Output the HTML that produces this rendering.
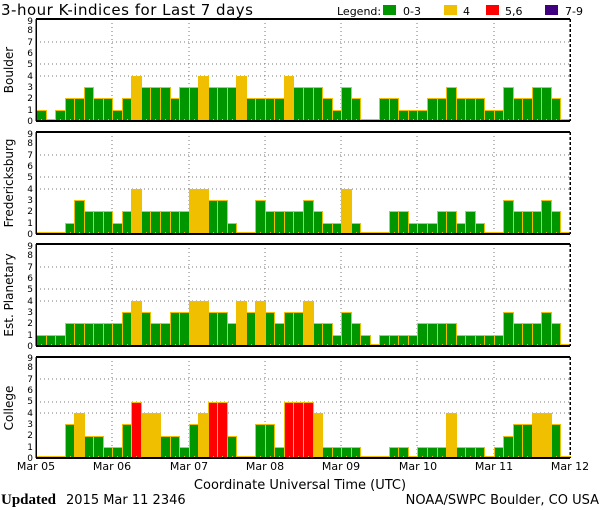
<!DOCTYPE html>
<html><head><meta charset="utf-8"><style>
body{margin:0;background:#fff;}
svg{display:block;font-family:"DejaVu Sans","Liberation Sans",sans-serif;}
</style></head><body>
<svg id="s" width="600" height="510" xmlns="http://www.w3.org/2000/svg">
<rect width="600" height="510" fill="#fff"/>
<text x="1" y="15" font-size="15" fill="#000" textLength="252">3-hour K-indices for Last 7 days</text>
<text x="337" y="15" font-size="11">Legend:</text>
<rect x="383" y="5" width="13" height="10" fill="#009600"/><text x="403" y="15" font-size="11">0-3</text>
<rect x="444" y="5" width="13" height="10" fill="#f0c000"/><text x="463" y="15" font-size="11">4</text>
<rect x="486" y="5" width="13" height="10" fill="#ff0000"/><text x="505" y="15" font-size="11">5,6</text>
<rect x="545" y="5" width="13" height="10" fill="#400080"/><text x="565" y="15" font-size="11">7-9</text>
<g id="panels" shape-rendering="crispEdges"></g>
<g font-size="11" text-anchor="middle">
<text x="36" y="470">Mar 05</text><text x="112" y="470">Mar 06</text><text x="189" y="470">Mar 07</text><text x="265" y="470">Mar 08</text><text x="341" y="470">Mar 09</text><text x="418" y="470">Mar 10</text><text x="494" y="470">Mar 11</text><text x="570" y="470">Mar 12</text>
<text x="300" y="489" font-size="13">Coordinate Universal Time (UTC)</text>
</g>
<text x="1" y="504" font-size="15" font-family="Liberation Serif,serif" font-weight="bold">Updated</text>
<text x="66" y="504" font-size="13">2015 Mar 11 2346</text>
<text x="599" y="504" font-size="13" text-anchor="end">NOAA/SWPC Boulder, CO USA</text>
<g font-size="12" text-anchor="middle">
<text transform="translate(13,70) rotate(-90)">Boulder</text>
<text transform="translate(13,183) rotate(-90)">Fredericksburg</text>
<text transform="translate(13,295) rotate(-90)">Est. Planetary</text>
<text transform="translate(13,408) rotate(-90)">College</text>
</g>
<g font-size="9" text-anchor="end">
<text x="33" y="124">0</text><text x="33" y="113">1</text><text x="33" y="101">2</text><text x="33" y="90">3</text><text x="33" y="79">4</text><text x="33" y="67">5</text><text x="33" y="56">6</text><text x="33" y="45">7</text><text x="33" y="33">8</text><text x="33" y="24">9</text>
<text x="33" y="237">0</text><text x="33" y="226">1</text><text x="33" y="214">2</text><text x="33" y="203">3</text><text x="33" y="192">4</text><text x="33" y="180">5</text><text x="33" y="169">6</text><text x="33" y="158">7</text><text x="33" y="146">8</text><text x="33" y="137">9</text>
<text x="33" y="349">0</text><text x="33" y="338">1</text><text x="33" y="326">2</text><text x="33" y="315">3</text><text x="33" y="304">4</text><text x="33" y="292">5</text><text x="33" y="281">6</text><text x="33" y="270">7</text><text x="33" y="258">8</text><text x="33" y="249">9</text>
<text x="33" y="461">0</text><text x="33" y="450">1</text><text x="33" y="438">2</text><text x="33" y="427">3</text><text x="33" y="416">4</text><text x="33" y="404">5</text><text x="33" y="393">6</text><text x="33" y="382">7</text><text x="33" y="370">8</text><text x="33" y="361">9</text>
</g>
</svg>
<script>
var D=[
[19,121,[1,0,1,2,2,3,2,2, 1,2,4,3,3,3,2,3, 3,4,3,3,3,4,2,2, 2,2,4,3,3,3,2,1, 3,2,0,0,2,2,1,1, 1,2,2,3,2,2,2,1, 1,3,2,2,3,3,2,0]],
[132,234,[0,0,0,1,3,2,2,2, 1,2,4,2,2,2,2,2, 4,4,3,3,1,0,0,3, 2,2,2,2,3,2,1,1, 4,1,0,0,0,2,2,1, 1,1,2,2,1,2,1,0, 0,3,2,2,2,3,2,0]],
[244,346,[1,1,1,2,2,2,2,2, 2,3,4,3,2,2,3,3, 4,4,3,3,2,4,3,4, 3,2,3,3,4,2,2,1, 3,2,1,0,1,1,1,1, 2,2,2,2,1,1,1,1, 1,3,2,2,2,3,2,0]],
[357,458,[0,0,0,3,4,2,2,1, 1,3,5,4,4,2,2,1, 3,4,5,5,2,0,0,3, 3,1,5,5,5,4,1,1, 1,1,0,0,0,1,1,0, 1,1,1,4,1,1,1,0, 1,2,3,3,4,4,3,0]]];
var L=36,R=570,bw=(R-L)/56,h='';
D.forEach(function(p){var t=p[0],b=p[1],u=(b-t)/9;
 [4,5,7].forEach(function(k){var y=Math.round(b-k*u);h+='<line x1="'+L+'" x2="'+R+'" y1="'+y+'" y2="'+y+'" stroke="#777" stroke-dasharray="1,3"/>';});
 for(var d=1;d<7;d++){var x=Math.round(L+d*8*bw);h+='<line x1="'+x+'" x2="'+x+'" y1="'+t+'" y2="'+b+'" stroke="#777" stroke-dasharray="1,3"/>';}
 p[2].forEach(function(v,i){var x0=Math.round(L+i*bw),x1=Math.round(L+(i+1)*bw),hh=v?Math.round(v*u):2;var c=v<=3?'#009600':v==4?'#f0c000':v<=6?'#ff0000':'#400080';
  h+='<rect x="'+x0+'" y="'+(b-hh)+'" width="'+(x1-x0+1)+'" height="'+hh+'" fill="#f0c000"/>';
  if(v) h+='<rect x="'+(x0+1)+'" y="'+(b-hh+1)+'" width="'+(x1-x0-1)+'" height="'+(hh-1)+'" fill="'+c+'"/>';
  var xm=Math.round((x0+x1)/2);
  h+='<rect x="'+xm+'" y="'+(b-2)+'" width="1" height="2" fill="#f0c000"/>';});
 h+='<line x1="'+L+'" x2="'+R+'" y1="'+t+'" y2="'+t+'" stroke="#000" stroke-width="2"/>';
 h+='<line x1="'+L+'" x2="'+R+'" y1="'+b+'" y2="'+b+'" stroke="#000" stroke-width="2"/>';
 h+='<line x1="'+L+'" x2="'+L+'" y1="'+t+'" y2="'+b+'" stroke="#000" stroke-width="1.5"/>';
 h+='<line x1="'+R+'" x2="'+R+'" y1="'+t+'" y2="'+b+'" stroke="#000" stroke-width="1.5" stroke-dasharray="3,2"/>';
});
document.getElementById('panels').innerHTML=h;
</script>
</body></html>
